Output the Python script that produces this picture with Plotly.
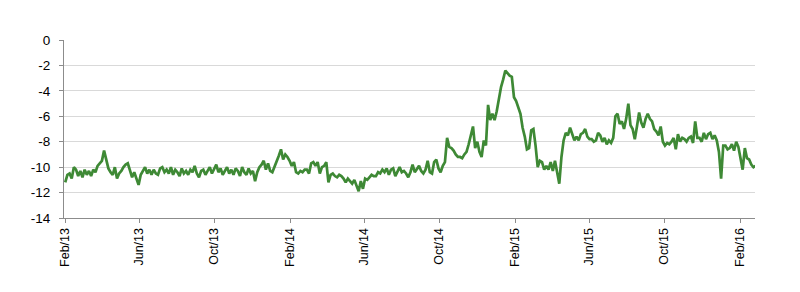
import pandas as pd
import plotly.graph_objects as go

start_date = "2013-02-01"
step = "84h"  # twice-weekly observations

values = [
    -11.2,-10.6,-10.5,-10.9,-10.0,-10.2,-10.7,-10.3,-10.8,-10.2,-10.6,-10.3,-10.7,-10.2,-10.4,-9.9,
    -9.7,-9.5,-8.7,-9.5,-10.1,-10.4,-10.6,-10.0,-10.9,-10.5,-10.3,-10.0,-9.8,-9.7,-10.3,-10.8,
    -10.4,-11.0,-11.4,-10.6,-10.3,-10.0,-10.5,-10.2,-10.6,-10.2,-10.5,-10.6,-10.1,-10.0,-10.4,-10.2,
    -10.5,-10.0,-10.6,-10.2,-10.4,-10.7,-10.1,-10.5,-10.3,-10.6,-10.2,-10.4,-9.9,-10.5,-10.8,-10.3,
    -10.2,-10.6,-10.3,-10.0,-10.5,-10.2,-9.8,-10.4,-10.1,-10.6,-10.3,-10.0,-10.5,-10.2,-10.6,-10.1,
    -10.3,-10.7,-10.0,-10.4,-10.6,-10.1,-10.5,-10.3,-11.1,-10.4,-10.0,-9.8,-9.5,-10.2,-9.7,-10.3,
    -10.4,-10.0,-9.5,-9.1,-8.6,-9.4,-9.0,-9.2,-9.5,-9.9,-9.6,-10.4,-10.5,-10.3,-10.4,-10.2,
    -10.2,-10.5,-9.7,-9.6,-9.9,-9.6,-10.5,-10.0,-9.9,-9.6,-11.2,-10.6,-10.5,-10.7,-10.8,-10.6,
    -10.7,-10.9,-11.2,-10.9,-11.1,-11.3,-11.0,-11.4,-11.9,-11.1,-11.7,-10.9,-11.0,-10.8,-10.6,-10.7,
    -10.7,-10.4,-10.5,-10.2,-10.4,-10.1,-10.6,-10.2,-10.1,-10.7,-10.3,-10.0,-10.4,-10.3,-10.5,-10.8,
    -10.4,-9.8,-10.4,-10.1,-9.9,-10.3,-10.5,-10.2,-9.5,-10.4,-10.5,-9.6,-9.4,-10.1,-10.4,-9.9,
    -9.6,-7.7,-8.4,-8.5,-8.7,-9.0,-9.2,-9.2,-9.3,-9.0,-8.8,-8.2,-7.5,-6.8,-8.5,-8.0,
    -8.8,-9.2,-7.9,-8.3,-5.1,-6.3,-5.8,-6.3,-5.6,-4.5,-3.7,-3.1,-2.4,-2.6,-2.8,-2.9,
    -4.5,-4.8,-5.3,-5.8,-6.9,-7.6,-8.6,-8.5,-7.1,-7.0,-8.3,-10.0,-9.5,-9.6,-10.2,-9.9,
    -10.2,-9.6,-10.3,-9.5,-10.4,-11.3,-9.2,-7.9,-7.3,-7.5,-6.9,-7.5,-7.9,-7.6,-7.9,-7.4,
    -7.3,-7.0,-7.6,-7.8,-7.8,-8.0,-7.9,-7.3,-7.5,-8.0,-7.7,-8.2,-7.9,-8.1,-7.7,-6.0,
    -5.8,-6.6,-6.4,-7.0,-6.2,-5.0,-6.7,-7.0,-7.8,-6.8,-5.7,-6.5,-6.9,-6.2,-5.8,-6.2,
    -6.4,-7.0,-7.2,-7.5,-6.8,-8.0,-8.3,-8.1,-8.2,-8.0,-7.7,-8.6,-7.4,-8.0,-7.7,-7.8,
    -8.0,-7.7,-7.6,-8.1,-6.4,-7.7,-7.7,-8.0,-7.3,-7.8,-7.4,-7.3,-7.8,-7.5,-7.9,-8.8,
    -10.9,-8.3,-8.3,-8.6,-8.5,-8.2,-8.7,-8.0,-8.4,-9.3,-10.2,-8.5,-9.3,-9.4,-9.8,-10.0,
    -9.9,
]

tick_dates = ["2013-02-01", "2013-06-01", "2013-10-01", "2014-02-01", "2014-06-01",
              "2014-10-01", "2015-02-01", "2015-06-01", "2015-10-01", "2016-02-01"]
tick_labels = ["Feb/13", "Jun/13", "Oct/13", "Feb/14", "Jun/14",
               "Oct/14", "Feb/15", "Jun/15", "Oct/15", "Feb/16"]
y_ticks = [0, -2, -4, -6, -8, -10, -12, -14]

dates = pd.date_range(start=start_date, periods=len(values), freq=step)

fig = go.Figure()
fig.add_trace(go.Scatter(
    x=dates, y=values, mode="lines",
    line=dict(color="#3e8935", width=2.7),
    hoverinfo="skip", showlegend=False,
))

fig.update_layout(
    width=800, height=292,
    margin=dict(l=64, r=45, t=40, b=74),
    paper_bgcolor="white", plot_bgcolor="white",
    font=dict(family="Liberation Sans, Arial, sans-serif", size=12, color="#000000"),
)
fig.update_xaxes(
    type="date",
    range=["2013-01-30", "2016-02-25"],
    tickvals=tick_dates, ticktext=tick_labels, tickangle=-90,
    showgrid=False, zeroline=False,
    showline=True, linecolor="#8c8c8c", linewidth=1,
    ticks="outside", ticklen=4, tickcolor="#8c8c8c",
    tickfont=dict(size=12.5),
)
fig.update_yaxes(
    range=[-14, 0],
    tickvals=y_ticks, ticktext=[str(v) for v in y_ticks],
    showgrid=True, gridcolor="#d9d9d9", gridwidth=1,
    zeroline=False,
    showline=True, linecolor="#8c8c8c", linewidth=1,
    ticks="outside", ticklen=4, tickcolor="#8c8c8c",
    ticklabelstandoff=6,
    tickfont=dict(size=13.5),
)

fig.write_html("out.html")
